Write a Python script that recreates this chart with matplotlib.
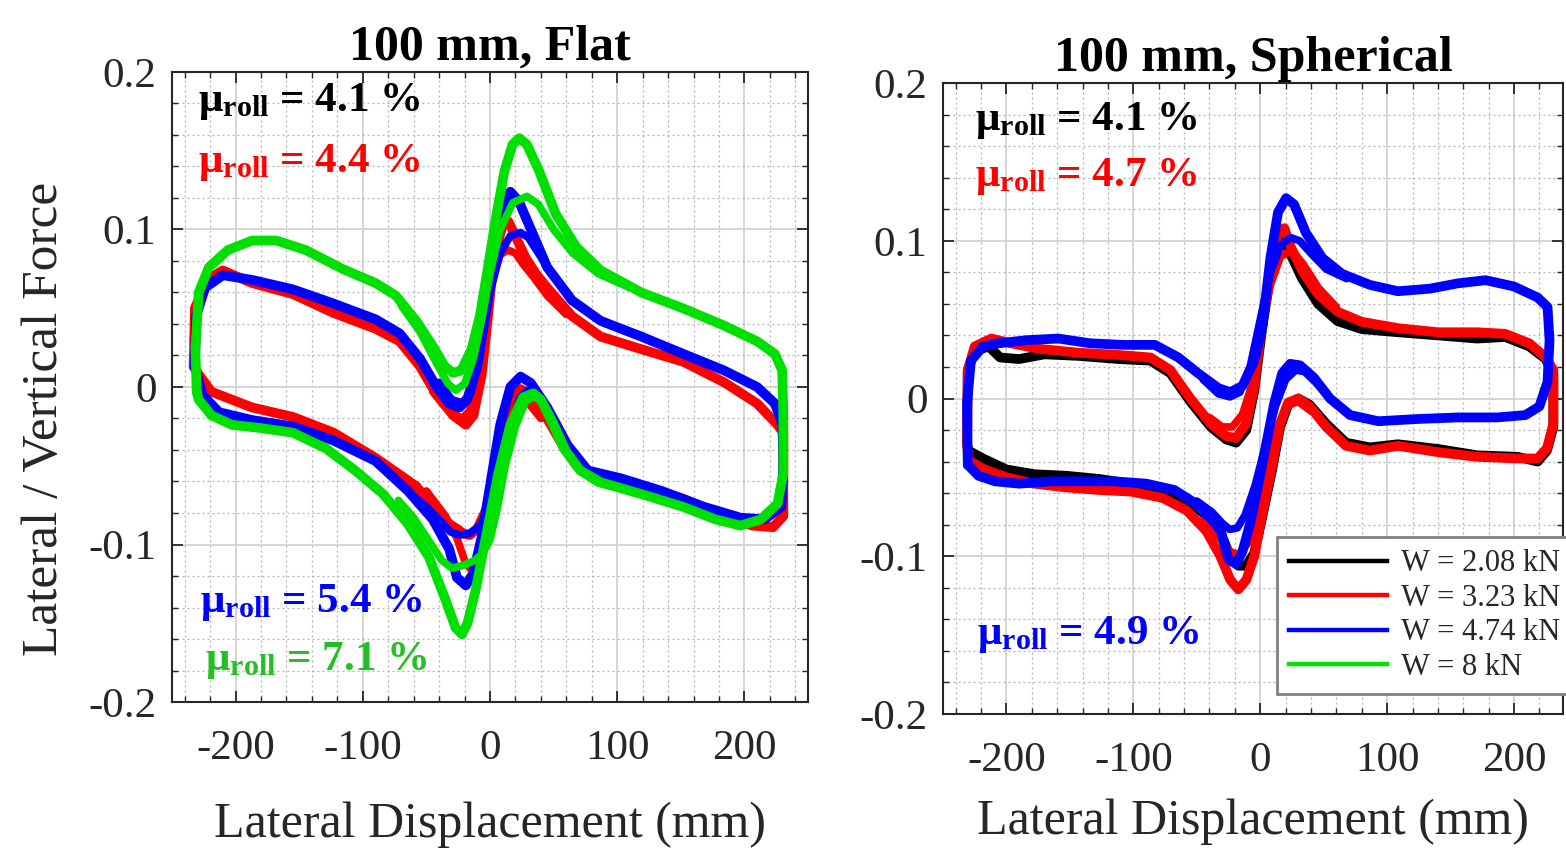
import matplotlib
matplotlib.use('Agg')
import matplotlib.pyplot as plt
from matplotlib.ticker import MultipleLocator, FuncFormatter
from matplotlib.lines import Line2D

plt.rcParams['font.family'] = ['Liberation Serif', 'DejaVu Serif']
plt.rcParams['mathtext.fontset'] = 'custom'
plt.rcParams['mathtext.rm'] = 'Liberation Serif'
plt.rcParams['mathtext.bf'] = 'Liberation Serif:bold'
plt.rcParams['mathtext.it'] = 'Liberation Serif:italic'
plt.rcParams['axes.unicode_minus'] = False

# ---------------- data: 100 mm, Flat ----------------
flat_red_x = [-233, -232, -222.5, -210, -187, -155, -123, -90, -71, -55, -42, -29, -19, -13, -6.5, -1.6, 3, 10, 14.5,
              21, 28, 36, 45, 64.5, 87, 119, 152, 184, 210, 226, 230.6, 230.6, 222.6, 206, 184, 152, 119, 87, 68, 55,
              42, 32, 24, 16, 8, 3, -3, -10, -16, -21, -26, -32, -42, -58, -90, -123, -155, -187, -219, -229, -233]
flat_red_y = [0.013, 0.05, 0.068, 0.074, 0.066, 0.059, 0.047, 0.037, 0.029, 0.013, -0.005, -0.018, -0.024, -0.018,
              0.008, 0.045, 0.082, 0.103, 0.105, 0.094, 0.082, 0.072, 0.063, 0.045, 0.032, 0.024, 0.016, 0.003,
              -0.0105, -0.024, -0.029, -0.082, -0.089, -0.088, -0.082, -0.071, -0.063, -0.058, -0.05, -0.034, -0.016,
              -0.005, -0.0013, -0.008, -0.03, -0.055, -0.078, -0.09, -0.094, -0.093, -0.09, -0.087, -0.079, -0.063,
              -0.045, -0.029, -0.019, -0.013, -0.003, 0.008, 0.013]
flat_red_in_up_x = [-45, -32, -22, -16, -10, -4, 2, 8, 14, 20, 26, 34, 45, 60]
flat_red_in_up_y = [-0.003, -0.015, -0.02, -0.015, 0.005, 0.04, 0.07, 0.084, 0.087, 0.085, 0.078, 0.07, 0.058, 0.046]
flat_red_in_lo_x = [40, 30, 22, 14, 6, 0, -6, -12, -16, -20, -26, -35, -50]
flat_red_in_lo_y = [-0.02, -0.01, -0.004, -0.015, -0.045, -0.075, -0.1, -0.112, -0.115, -0.11, -0.096, -0.082, -0.066]

flat_blue_x = [-232, -231, -224, -210, -187, -155, -123, -90, -71, -55, -42, -32, -24, -18, -10, -3, 3, 10, 16,
               22.6, 30.6, 45, 64.5, 87, 119, 152, 184, 210, 224, 230, 230.5, 229, 216, 197, 168, 135, 103, 77, 61,
               45, 32, 24, 16, 8, 1.6, -6.5, -13, -19, -26, -32, -45, -64.5, -90, -123, -155, -187, -213, -226, -232]
flat_blue_y = [0.013, 0.045, 0.063, 0.071, 0.068, 0.062, 0.053, 0.043, 0.034, 0.018, 0.0, -0.0105, -0.013, -0.008,
               0.013, 0.05, 0.089, 0.116, 0.124, 0.118, 0.103, 0.076, 0.055, 0.042, 0.032, 0.021, 0.0105, 0.0,
               -0.0105, -0.024, -0.05, -0.076, -0.084, -0.083, -0.076, -0.066, -0.058, -0.053, -0.037, -0.013,
               0.0026, 0.0066, 0.0, -0.024, -0.055, -0.095, -0.118, -0.126, -0.121, -0.103, -0.084, -0.066, -0.047,
               -0.034, -0.025, -0.021, -0.016, -0.005, 0.013]
flat_blue_in_up_x = [-40, -30, -22, -15, -8, 0, 8, 16, 24, 30, 38, 50, 65]
flat_blue_in_up_y = [0.003, -0.008, -0.01, -0.004, 0.02, 0.06, 0.085, 0.096, 0.098, 0.095, 0.085, 0.07, 0.055]
flat_blue_in_lo_x = [45, 36, 30, 24, 16, 8, 0, -8, -16, -24, -31, -38, -50, -65]
flat_blue_in_lo_y = [-0.015, -0.004, -0.002, -0.006, -0.025, -0.055, -0.075, -0.088, -0.093, -0.094, -0.092, -0.086,
                     -0.076, -0.066]

flat_green_x = [-230.6, -231.6, -229, -221, -206, -187, -168, -145, -116, -90, -74, -58, -45, -35.5, -29, -22.6,
                -14.5, -8, -1.6, 4.8, 11.3, 17.7, 23, 29, 38.7, 51.6, 67.7, 87, 119, 151.6, 184, 210, 224, 229.7,
                230.6, 230.6, 226, 213, 197, 177, 151.6, 119, 87, 71, 58, 48, 40, 34, 26, 16, 6.5, -3.2, -11.3,
                -17.7, -22, -27, -35.5, -48, -64.5, -84, -106, -129, -155, -181, -203, -219, -229, -230.6]
flat_green_y = [-0.003, 0.024, 0.06, 0.076, 0.087, 0.093, 0.093, 0.087, 0.075, 0.066, 0.058, 0.042, 0.026, 0.013,
                0.009, 0.0105, 0.024, 0.045, 0.076, 0.108, 0.137, 0.154, 0.158, 0.154, 0.137, 0.11, 0.089, 0.074,
                0.06, 0.05, 0.039, 0.029, 0.021, 0.0105, -0.016, -0.055, -0.074, -0.084, -0.088, -0.084, -0.076,
                -0.068, -0.0605, -0.053, -0.039, -0.021, -0.008, -0.004, -0.0066, -0.024, -0.055, -0.095, -0.129,
                -0.15, -0.157, -0.153, -0.134, -0.108, -0.087, -0.068, -0.053, -0.039, -0.029, -0.026, -0.024,
                -0.018, -0.008, -0.003]
flat_green_in_up_x = [-70, -55, -42, -33, -27, -20, -13, -6, 0, 8, 18, 29, 38, 50, 65, 85, 110]
flat_green_in_up_y = [0.052, 0.035, 0.015, 0.002, -0.002, 0.002, 0.018, 0.045, 0.072, 0.1, 0.117, 0.121, 0.116, 0.1,
                      0.085, 0.072, 0.063]
flat_green_in_lo_x = [110, 85, 70, 60, 50, 42, 35, 28, 20, 12, 5, 0, -6, -12, -20, -30, -38, -47, -60, -72]
flat_green_in_lo_y = [-0.066, -0.061, -0.053, -0.04, -0.022, -0.01, -0.006, -0.009, -0.025, -0.05, -0.08, -0.097,
                      -0.106, -0.11, -0.113, -0.115, -0.11, -0.099, -0.083, -0.072]

# ---------------- data: 100 mm, Spherical ----------------
sph_black_x = [-231, -230.5, -225, -214, -205, -190, -170, -143, -111.6, -86.5, -70.8, -55, -39, -26.7, -19, -11,
               -4.7, 1.6, 8, 14, 19, 23.6, 33, 45.6, 61, 80, 108.5, 140, 171, 193, 212, 225, 231, 231, 226, 218.6,
               203, 171, 140, 108.5, 86.5, 67.6, 52, 39, 30, 22, 15.7, 9.4, 1.6, -4.7, -11, -17.3, -23.6, -31.4,
               -42.5, -58, -77, -102, -127, -152.5, -178, -200, -218.5, -230, -231]
sph_black_y = [-0.029, 0.018, 0.03, 0.033, 0.026, 0.025, 0.028, 0.027, 0.025, 0.024, 0.016, -0.002, -0.018, -0.026,
               -0.028, -0.02, 0.005, 0.045, 0.078, 0.098, 0.1, 0.092, 0.076, 0.06, 0.049, 0.044, 0.042, 0.04, 0.038,
               0.039, 0.033, 0.025, 0.015, -0.018, -0.033, -0.04, -0.037, -0.036, -0.032, -0.029, -0.031, -0.028,
               -0.016, -0.004, 0.0, -0.004, -0.018, -0.045, -0.075, -0.098, -0.106, -0.106, -0.1, -0.085, -0.074,
               -0.065, -0.058, -0.054, -0.051, -0.049, -0.048, -0.045, -0.038, -0.033, -0.029]

sph_red_x = [-231, -230.5, -225, -212, -196.5, -174.5, -143, -111.6, -86.5, -70.8, -55, -39, -26.7, -19, -11, -4.7,
             1.6, 8, 14, 19, 23.6, 33, 45.6, 61, 80, 108.5, 140, 171, 193, 212, 225, 231, 231, 226, 218.6, 203, 171,
             140, 108.5, 86.5, 67.6, 52, 39, 30, 22, 15.7, 9.4, 1.6, -4.7, -11, -17.3, -23.6, -31.4, -42.5, -58, -77,
             -102, -127, -152.5, -178, -200, -218.5, -230, -231]
sph_red_y = [-0.029, 0.018, 0.033, 0.038, 0.035, 0.0315, 0.029, 0.0276, 0.026, 0.018, 0.0, -0.016, -0.024, -0.025,
             -0.016, 0.008, 0.05, 0.081, 0.106, 0.108, 0.097, 0.081, 0.066, 0.055, 0.0486, 0.0446, 0.042, 0.042,
             0.041, 0.035, 0.026, 0.018, -0.016, -0.0315, -0.038, -0.038, -0.037, -0.034, -0.03, -0.033, -0.03,
             -0.018, -0.005, 0.0, -0.0026, -0.016, -0.042, -0.073, -0.1, -0.115, -0.121, -0.115, -0.1, -0.084,
             -0.071, -0.063, -0.059, -0.058, -0.0564, -0.054, -0.05, -0.0446, -0.039, -0.029]
sph_red_in_up_x = [-40, -30, -22, -14, -6, 0, 8, 16, 25, 34, 46, 60]
sph_red_in_up_y = [-0.012, -0.018, -0.018, -0.01, 0.01, 0.04, 0.072, 0.09, 0.094, 0.085, 0.07, 0.058]
sph_red_in_lo_x = [40, 30, 22, 14, 6, -2, -10, -17, -24, -32, -45]
sph_red_in_lo_y = [-0.008, -0.002, -0.004, -0.018, -0.045, -0.072, -0.092, -0.099, -0.097, -0.088, -0.077]

sph_blue_x = [-230.5, -231, -228, -218.5, -206, -184, -159, -134, -108.5, -83, -64.5, -49, -33, -23.6, -14, -4.7,
              1.6, 8, 14, 20.4, 26.7, 36, 49, 64.5, 86.5, 108.5, 133.6, 155.7, 177.7, 200, 218.6, 226.4, 228, 226.4,
              220, 209, 187, 155.7, 124, 93, 70.8, 55, 42.5, 31.4, 23.6, 17.3, 11, 4.7, -1.6, -7.9, -14, -19, -25,
              -31, -39, -52, -67.6, -89.6, -115, -140, -165, -190, -209, -222, -230.5]
sph_blue_y = [-0.042, -0.003, 0.024, 0.033, 0.035, 0.037, 0.038, 0.035, 0.034, 0.034, 0.026, 0.016, 0.0066, 0.004,
              0.008, 0.024, 0.045, 0.089, 0.118, 0.127, 0.123, 0.105, 0.089, 0.079, 0.072, 0.068, 0.0696, 0.073,
              0.075, 0.071, 0.064, 0.058, 0.037, 0.0105, -0.005, -0.0105, -0.012, -0.012, -0.013, -0.0144, -0.0105,
              0.0, 0.013, 0.021, 0.022, 0.016, -0.003, -0.029, -0.055, -0.079, -0.097, -0.105, -0.102, -0.084,
              -0.076, -0.066, -0.058, -0.054, -0.0525, -0.0525, -0.0525, -0.054, -0.0525, -0.049, -0.042]
sph_blue_in_up_x = [-45, -33, -24, -16, -8, 0, 8, 16, 24, 31, 40, 52, 68]
sph_blue_in_up_y = [0.012, 0.003, 0.001, 0.004, 0.02, 0.05, 0.08, 0.097, 0.102, 0.1, 0.092, 0.082, 0.076]
sph_blue_in_lo_x = [55, 44, 35, 28, 20, 12, 4, -4, -12, -18, -24, -30, -38, -50]
sph_blue_in_lo_y = [0.0, 0.01, 0.017, 0.018, 0.012, -0.005, -0.03, -0.055, -0.074, -0.082, -0.083, -0.079, -0.072,
                    -0.065]

legend_labels = ['W = 2.08 kN', 'W = 3.23 kN', 'W = 4.74 kN', 'W = 8 kN']
flat_mu = ['4.1', '4.4', '5.4', '7.1']
sph_mu = ['4.1', '4.7', '4.9']

C_BLACK, C_RED, C_BLUE, C_GREEN = '#000000', '#ff0000', '#0000ff', '#00e000'
C_GREEN_TXT = '#22c022'
C_TEXT = '#262626'

W, H = 1566, 855
fig = plt.figure(figsize=(W / 100, H / 100), dpi=100)
axL = fig.add_axes([172 / W, 1 - 702 / H, 636 / W, 630 / H])
axR = fig.add_axes([943 / W, 1 - 714 / H, 620 / W, 631 / H])

MAIN_LW, IN_LW = 7.0, 5.5


def loop(ax, x, y, c, lw):
    ax.plot(x, y, color=c, lw=lw, solid_joinstyle='round', solid_capstyle='round', zorder=3)


def style(ax, xlim):
    ax.set_xlim(*xlim)
    ax.set_ylim(-0.2, 0.2)
    ax.xaxis.set_major_locator(MultipleLocator(100))
    ax.xaxis.set_minor_locator(MultipleLocator(20))
    ax.yaxis.set_major_locator(MultipleLocator(0.1))
    ax.yaxis.set_minor_locator(MultipleLocator(0.02))
    ax.xaxis.set_major_formatter(FuncFormatter(lambda v, p: '%g' % round(v, 6)))
    ax.yaxis.set_major_formatter(FuncFormatter(lambda v, p: '%g' % round(v, 6)))
    ax.grid(which='major', color='#d2d2d2', lw=1.3, ls='-')
    ax.grid(which='minor', color='#b5b5b5', lw=0.9, ls=(0, (1.6, 2.4)))
    ax.set_axisbelow(True)
    ax.tick_params(which='both', direction='in', top=True, right=True, colors=C_TEXT)
    ax.tick_params(which='major', length=8, width=1.3, labelsize=31)
    ax.tick_params(which='minor', length=4, width=1.0)
    ax.tick_params(axis='x', which='major', pad=20)
    ax.tick_params(axis='y', which='major', pad=11)
    for s in ax.spines.values():
        s.set_color(C_TEXT)
        s.set_linewidth(1.5)


# Flat
loop(axL, flat_red_x, flat_red_y, C_RED, MAIN_LW)
loop(axL, flat_red_in_up_x, flat_red_in_up_y, C_RED, IN_LW)
loop(axL, flat_red_in_lo_x, flat_red_in_lo_y, C_RED, IN_LW)
loop(axL, flat_blue_x, flat_blue_y, C_BLUE, MAIN_LW)
loop(axL, flat_blue_in_up_x, flat_blue_in_up_y, C_BLUE, IN_LW)
loop(axL, flat_blue_in_lo_x, flat_blue_in_lo_y, C_BLUE, IN_LW)
loop(axL, flat_green_x, flat_green_y, C_GREEN, MAIN_LW)
loop(axL, flat_green_in_up_x, flat_green_in_up_y, C_GREEN, IN_LW)
loop(axL, flat_green_in_lo_x, flat_green_in_lo_y, C_GREEN, IN_LW)
style(axL, (-250, 250))
axL.set_title('100 mm, Flat', fontsize=36, fontweight='bold', pad=9)
axL.set_xlabel('Lateral Displacement (mm)', fontsize=36, color=C_TEXT)
axL.xaxis.set_label_coords(0.5, -0.158)
axL.set_ylabel('Lateral / Vertical Force', fontsize=37, color=C_TEXT)
axL.yaxis.set_label_coords(-0.163, 0.45)

# Spherical
loop(axR, sph_black_x, sph_black_y, C_BLACK, MAIN_LW)
loop(axR, sph_red_x, sph_red_y, C_RED, MAIN_LW)
loop(axR, sph_red_in_up_x, sph_red_in_up_y, C_RED, IN_LW)
loop(axR, sph_red_in_lo_x, sph_red_in_lo_y, C_RED, IN_LW)
loop(axR, sph_blue_x, sph_blue_y, C_BLUE, MAIN_LW)
loop(axR, sph_blue_in_up_x, sph_blue_in_up_y, C_BLUE, IN_LW)
loop(axR, sph_blue_in_lo_x, sph_blue_in_lo_y, C_BLUE, IN_LW)
style(axR, (-250, 238.6))
axR.set_title('100 mm, Spherical', fontsize=36, fontweight='bold', pad=9)
axR.set_xlabel('Lateral Displacement (mm)', fontsize=36, color=C_TEXT)
axR.xaxis.set_label_coords(0.5, -0.134)


def mu_text(ax, x, y, val, c):
    ax.text(x, y, r'μ$_{\mathbf{roll}}$ = ' + val + ' %', transform=ax.transAxes, fontsize=31,
            fontweight='bold', color=c, ha='left', va='baseline', zorder=5)


mu_text(axL, 0.041, 0.938, flat_mu[0], C_BLACK)
mu_text(axL, 0.041, 0.841, flat_mu[1], C_RED)
mu_text(axL, 0.044, 0.143, flat_mu[2], C_BLUE)
mu_text(axL, 0.052, 0.051, flat_mu[3], C_GREEN_TXT)

mu_text(axR, 0.052, 0.925, sph_mu[0], C_BLACK)
mu_text(axR, 0.052, 0.837, sph_mu[1], C_RED)
mu_text(axR, 0.055, 0.111, sph_mu[2], C_BLUE)

handles = [Line2D([], [], color=c, lw=3.2) for c in (C_BLACK, C_RED, C_BLUE, C_GREEN)]
leg = axR.legend(handles, legend_labels, loc='upper left', bbox_to_anchor=(1277 / W, 1 - 537 / H),
                 bbox_transform=fig.transFigure, fontsize=22, frameon=True, fancybox=False,
                 edgecolor='#808080', framealpha=1, borderpad=0.4, handlelength=3.2, handletextpad=0.45,
                 labelspacing=0.18, borderaxespad=0)
leg.get_frame().set_linewidth(2)
leg.set_zorder(10)
for t in leg.get_texts():
    t.set_color(C_TEXT)

fig.savefig('out.png', dpi=100)
